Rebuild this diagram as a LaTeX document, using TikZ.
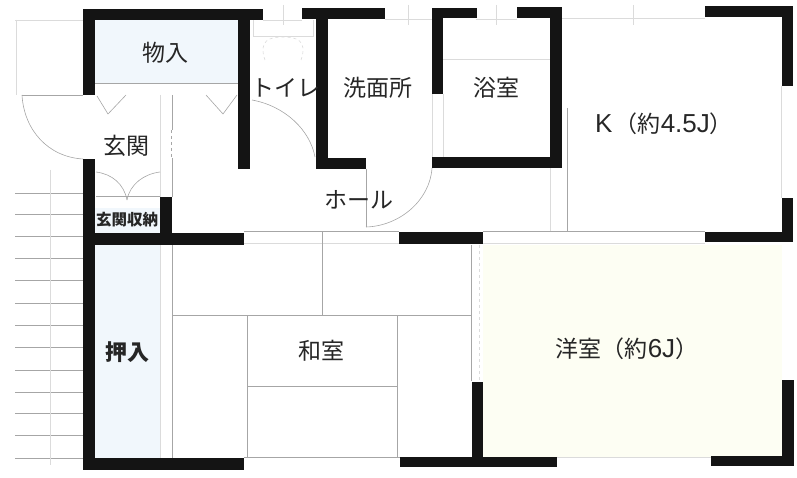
\documentclass[tikz,border=0pt]{standalone}
\usepackage{fontspec}
\setmainfont{Liberation Sans}
\newfontfamily\cjk{Noto Sans CJK JP}
\usepackage{tikz}
\usetikzlibrary{positioning}
\definecolor{closetblue}{HTML}{F1F7FC}
\definecolor{roomcream}{HTML}{FDFEF3}
\newcommand{\latinpart}[1]{{\rmfamily\fontsize{26}{26}\selectfont #1}}
\begin{document}
\begin{tikzpicture}[x=1pt, y=-1pt, line width =0.5 pt,
    wall/.style={fill=black!92},
    thin line/.style={draw=black!35, line width=0.6pt},
    faint line/.style={draw=black!14, line width=0.6pt},
    room/.style={font=\cjk\fontsize{23}{23}\selectfont, text=black!85, inner sep=0pt}]
        \useasboundingbox (0,0) rectangle (797,478);

        \fill [closetblue] (95,20) rectangle (238,83);
        \fill [closetblue] (95,245) rectangle (160,458);
        \fill [closetblue] (95,208) rectangle (160,233);
        \fill [roomcream] (483,245) rectangle (782,457);

        \draw [faint line] (15,20) -- (83,20) (16,20) -- (16,95);
        \draw [thin line] (22,95) -- (83,95);
        \draw [thin line] (22,95) .. controls (24,130) and (48,157) .. (83,159);
        \foreach \y in {193,214,236,258,280,303,325,347,370,392,413,435,458}
            \draw [thin line] (15,\y) -- (83,\y);
        \draw [faint line] (50,170) -- (50,465);

        \draw [thin line] (95,83) -- (238,83);
        \draw [thin line] (97,96) -- (108,114) -- (126,95);
        \draw [thin line] (206,95) -- (223,114) -- (237,95);
        \draw [faint line] (160,95) -- (160,197);
        \draw [thin line] (172,95) -- (172,130) (172,158) -- (172,197);
        \draw [thin line, dashed] (171,130) -- (171,158);
        \draw [thin line] (96,196) -- (160,196);
        \draw [thin line] (96,172) .. controls (112,174) and (124,184) .. (127,200);
        \draw [thin line] (160,172) .. controls (144,174) and (130,184) .. (127,200);

        \draw [faint line] (253,20) -- (253,36) -- (313,36) -- (313,20);
        \draw [faint line, dashed] (265,60) .. controls (258,40) and (270,37) .. (283,37) .. controls (296,37) and (308,40) .. (301,60);
        \draw [faint line] (263,20) -- (302,20);
        \draw [thin line] (252,100) .. controls (285,106) and (310,130) .. (315,157);

        \foreach \x in {283,408,496,633}
            \draw [faint line] (\x,5) -- (\x,25);
        \draw [faint line] (385,19) -- (432,19) (476,19) -- (517,19);
        \draw [faint line] (562,18) -- (705,18);
        \draw [faint line] (443,59) -- (550,59);
        \draw [faint line] (432,94) -- (432,157);
        \draw [faint line] (443,94) -- (443,157);
        \draw [thin line] (366,169) -- (366,227);
        \draw [thin line] (366,227) .. controls (400,226) and (430,200) .. (432,168);
        \draw [faint line] (550,168) -- (550,232);
        \draw [thin line] (567,108) -- (567,232);
        \draw [faint line] (781,86) -- (781,198);

        \draw [thin line] (244,231) -- (399,231) (483,231) -- (705,231);
        \draw [faint line] (244,243) -- (399,243) (483,243) -- (705,243);
        \draw [thin line] (172,245) -- (172,458);
        \draw [faint line] (160,245) -- (160,458);
        \draw [thin line] (172,315) -- (471,315);
        \draw [thin line] (322,232) -- (322,315);
        \draw [thin line] (247,315) -- (247,457);
        \draw [thin line] (397,315) -- (397,457);
        \draw [thin line] (247,386) -- (397,386);
        \draw [thin line] (244,457) -- (400,457);
        \draw [thin line] (471,245) -- (471,381);
        \draw [faint line, dashed] (479,245) -- (479,381);
        \draw [faint line] (557,457) -- (711,457);

        \fill [wall] (83,9) rectangle (263,20);
        \fill [wall] (83,9) rectangle (95,95);
        \fill [wall] (83,159) rectangle (95,470);
        \fill [wall] (83,458) rectangle (244,470);
        \fill [wall] (238,20) rectangle (250,169);
        \fill [wall] (95,233) rectangle (244,245);
        \fill [wall] (160,197) rectangle (172,240);
        \fill [wall] (302,8) rectangle (385,19);
        \fill [wall] (316,19) rectangle (328,169);
        \fill [wall] (316,158) rectangle (366,169);
        \fill [wall] (432,8) rectangle (477,18);
        \fill [wall] (432,8) rectangle (443,94);
        \fill [wall] (517,7) rectangle (562,18);
        \fill [wall] (550,7) rectangle (562,168);
        \fill [wall] (432,157) rectangle (562,168);
        \fill [wall] (705,6) rectangle (793,17);
        \fill [wall] (782,6) rectangle (793,86);
        \fill [wall] (782,198) rectangle (793,242);
        \fill [wall] (705,232) rectangle (793,242);
        \fill [wall] (399,232) rectangle (483,244);
        \fill [wall] (472,382) rectangle (483,467);
        \fill [wall] (400,457) rectangle (557,467);
        \fill [wall] (711,456) rectangle (794,466);
        \fill [wall] (782,380) rectangle (794,466);

        \node [room] (monoire) at (165,53) {物入};
        \node [room] (genkan) at (126,146) {玄関};
        \node [room, font=\cjk\bfseries\fontsize{15.5}{15.5}\selectfont] (shuno) at (127,220) {玄関収納};
        \node [room, font=\cjk\bfseries\fontsize{22}{22}\selectfont] (oshiire) at (127,352) {押入};
        \node [room] (toire) at (286,88) {トイレ};
        \node [room] (senmen) at (378,88) {洗面所};
        \node [room] (yokushitsu) at (496,88) {浴室};
        \node [room] (kitchen) at (664,124) {\latinpart{K}\hspace{0.1em}（約\latinpart{4.5J}）};
        \node [room] (hall) at (359,200) {ホール};
        \node [room] (washitsu) at (321,351) {和室};
        \node [room] (yoshitsu) at (627,349) {洋室（約\latinpart{6J}）};
\end{tikzpicture}
\end{document}
